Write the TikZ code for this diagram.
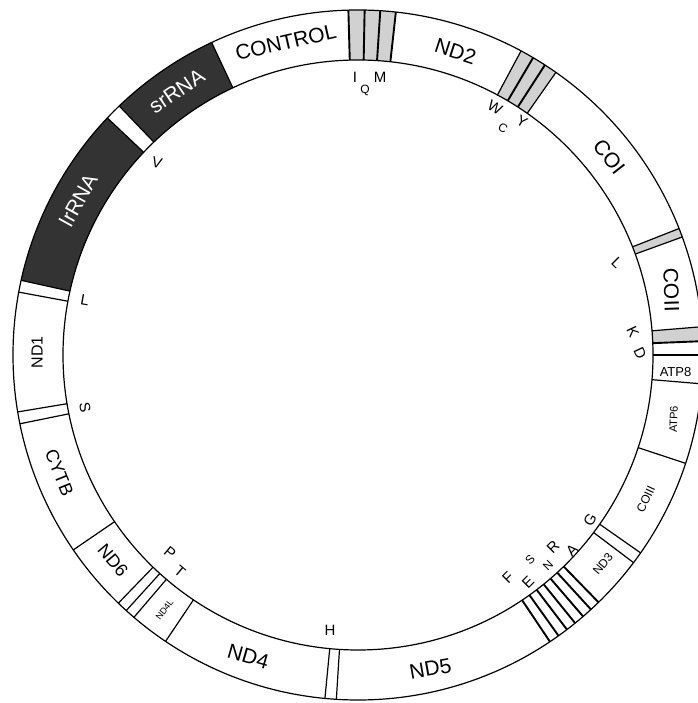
\documentclass[tikz,border=0pt]{standalone}
\usepackage{fontspec}
\setmainfont{Liberation Sans}
\newcommand{\ringpart}[3]{\fill[#1] (#2:295) arc[start angle=#2, end angle=#3, radius=295pt] -- (#3:345) arc[start angle=#3, end angle=#2, radius=345pt] -- cycle;}

\begin{document}
\begin{tikzpicture}[x=1pt,y=1pt,
	gene/.style={font=\fontsize{21}{22}\selectfont, inner sep=0pt},
	small/.style={font=\fontsize{11}{12}\selectfont, inner sep=0pt},
	trna/.style={font=\fontsize{15}{16}\selectfont, inner sep=0pt},
	bound/.style={line width=1.2pt},
	stripe/.style={line width=1.9pt},
	rrna/.style={fill=black!80},
	tbox/.style={fill=black!18}
	]
	\useasboundingbox (0,0) rectangle (697,703);
	\begin{scope}[shift={(358,348)}]
		% rRNA and tRNA fills
		\ringpart{rrna}{115.1}{133.8}
		\ringpart{rrna}{136.6}{167.5}
		\ringpart{tbox}{83.7}{91.6}
		\ringpart{tbox}{55}{61.8}
		\ringpart{tbox}{20}{21.5}
		\ringpart{tbox}{2.3}{4.7}
		
		\draw[bound] (0,0) circle[radius=295pt];
		\draw[bound] (0,0) circle[radius=345pt];
		
		\foreach \a in {115.1,61.8,55,21.5,20,4.7,0,-4.8,-18.3,-35,-37,-93.6,-95.5,-123.9,-130.5,-132.2,-134,-145.6,-168.5,-170.5,169.5,167.5,136.6,133.8}
		\draw[bound] (\a:295) -- (\a:345);
		\foreach \a in {91.6,88.9,86.3,83.7,59.5,57.2,2.3,-45.8,-47.53,-49.27,-51,-52.73,-54.47,-56.2}
		\draw[stripe] (\a:295) -- (\a:345);
		
		% gene names in the ring
		\node[gene, rotate=13] (control) at (103:321) {CONTROL};
		\node[gene, rotate=-18] (nd2) at (72.2:319) {ND2};
		\node[gene, rotate=-52] (coi) at (38.3:320) {COI};
		\node[gene, rotate=-88] (coii) at (11.7:320) {COII};
		\node[small, font=\fontsize{13}{13}\selectfont] (atp8) at (-3.1:318) {ATP8};
		\node[small, rotate=88] (atp6) at (-11.5:322) {ATP6};
		\node[small, font=\fontsize{12}{13}\selectfont, rotate=65] (coiii) at (-26.6:322) {COIII};
		\node[small, font=\fontsize{12}{13}\selectfont, rotate=50] (nd3) at (-40.5:322) {ND3};
		\node[gene, rotate=10] (nd5) at (-77:322) {ND5};
		\node[gene, rotate=-16] (nd4) at (-110:321) {ND4};
		\node[small, font=\fontsize{9}{9}\selectfont, rotate=53] (nd4l) at (-127.2:320) {ND4L};
		\node[gene, font=\fontsize{18}{20}\selectfont, rotate=-50] (nd6) at (-140:320) {ND6};
		\node[gene, font=\fontsize{18}{20}\selectfont, rotate=-68] (cytb) at (-158.5:321) {CYTB};
		\node[gene, font=\fontsize{16}{18}\selectfont, rotate=90] (nd1) at (179.5:321) {ND1};
		\node[gene, text=white, rotate=61] (lrrna) at (151:320) {lrRNA};
		\node[gene, text=white, rotate=34] (srrna) at (124.5:320) {srRNA};
	\end{scope}
	
	% tRNA letters
	\node[trna] (ti) at (355,626) {I};
	\node[trna, font=\fontsize{12}{12}\selectfont] (tq) at (365,613) {Q};
	\node[trna] (tm) at (380,626) {M};
	\node[trna, rotate=-30] (tw) at (495,595) {W};
	\node[trna, font=\fontsize{12}{12}\selectfont, rotate=-30] (tc) at (503,575) {C};
	\node[trna, rotate=-30] (ty) at (522,581) {Y};
	\node[trna, rotate=-45] (tl2) at (617,440) {L};
	\node[trna, rotate=-65] (tk) at (633,371) {K};
	\node[trna, rotate=-65] (td) at (640,350) {D};
	\node[trna, rotate=60] (tg) at (590,183) {G};
	\node[trna, rotate=45] (ta) at (572,153) {A};
	\node[trna, rotate=45] (tr) at (553,156) {R};
	\node[trna, font=\fontsize{12}{12}\selectfont, rotate=45] (tn) at (548,137) {N};
	\node[trna, font=\fontsize{12}{12}\selectfont, rotate=45] (ts2) at (530,143) {S};
	\node[trna, rotate=45] (te) at (528,121) {E};
	\node[trna, rotate=45] (tf) at (508,125) {F};
	\node[trna] (th) at (330,73) {H};
	\node[trna, rotate=-40] (tt) at (180,132) {T};
	\node[trna, rotate=-40] (tp) at (170,150) {P};
	\node[trna, rotate=-80] (ts1) at (85,295) {S};
	\node[trna, rotate=-10] (tl1) at (85,403) {L};
	\node[trna, rotate=-15] (tv) at (157,540) {V};
\end{tikzpicture}
\end{document}
